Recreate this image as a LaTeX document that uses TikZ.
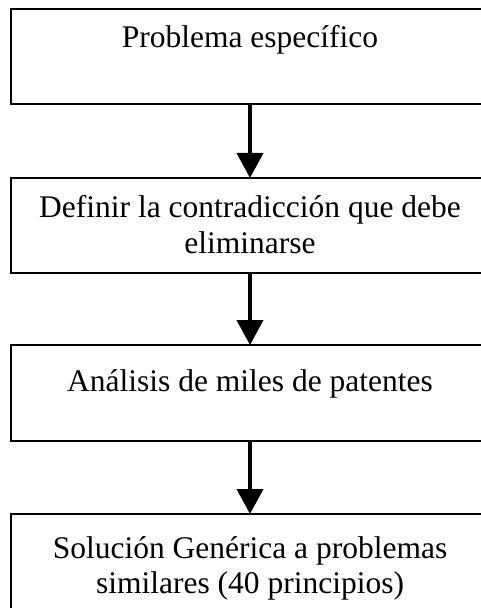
\documentclass[tikz,border=0pt]{standalone}
\usepackage{fontspec}
\setmainfont{Liberation Serif}
\usetikzlibrary{arrows.meta}
\tikzset{
  box/.style={draw=black, line width=1.6bp, minimum width=478bp, inner sep=0pt, outer sep=0pt},
  lbl/.style={anchor=base, inner sep=0pt, font=\fontsize{31.5bp}{36bp}\selectfont},
  flow/.style={line width=4bp, -{Triangle[width=26bp,length=25bp]}}
}
\begin{document}
\begin{tikzpicture}[x=1bp,y=-1bp]
\useasboundingbox (0,0) rectangle (481,608);
\fill[white] (0,0) rectangle (481,608);
\node[box, minimum height=95bp] (b1) at (250,56.5) {};
\node[box, minimum height=95bp] (b2) at (250,225.5) {};
\node[box, minimum height=96bp] (b3) at (250,393) {};
\node[box, minimum height=96bp] (b4) at (250,562) {};
\node[lbl] (t1) at (250,48) {Problema específico};
\node[lbl] (t2a) at (250,217) {Definir la contradicción que debe};
\node[lbl] (t2b) at (250,253) {eliminarse};
\node[lbl] (t3) at (250,391) {Análisis de miles de patentes};
\node[lbl] (t4a) at (250,558) {Solución Genérica a problemas};
\node[lbl] (t4b) at (250,593) {similares (40 principios)};
\draw[flow] (b1.south) -- (b2.north);
\draw[flow] (b2.south) -- (b3.north);
\draw[flow] (b3.south) -- (b4.north);
\end{tikzpicture}
\end{document}
